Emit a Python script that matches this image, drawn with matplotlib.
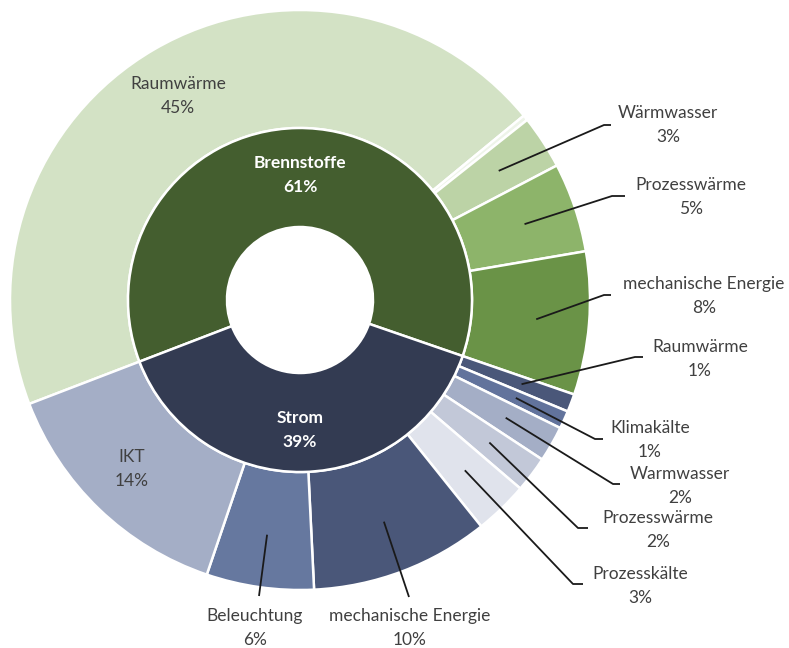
import numpy as np
import matplotlib
matplotlib.use("Agg")
import matplotlib.pyplot as plt

# Inner ring: energy carriers
carriers = ["Brennstoffe", "Strom"]
carrier_colors = ["#445e2f", "#333b52"]

# Outer ring: end uses per carrier (percent of total final energy)
fuel_uses = ["Raumwärme", "", "Wärmwasser", "Prozesswärme", "mechanische Energie"]
fuel_values = [45, 0.3, 3, 5, 8]
fuel_colors = ["#d3e2c5", "#eef4e9", "#bcd3a6", "#8db46a", "#6a9347"]

power_uses = ["Raumwärme", "Klimakälte", "Warmwasser", "Prozesswärme",
              "Prozesskälte", "mechanische Energie", "Beleuchtung", "IKT"]
power_values = [1, 1, 2, 2, 3, 10, 6, 14]
power_colors = ["#4a5779", "#62739c", "#a4aec6", "#c2c8d8",
                "#e0e3ec", "#4a5779", "#66789f", "#a4aec6"]

carrier_values = [sum(fuel_values), sum(power_values)]
carrier_labels = ["61%", "39%"]

W, H = 789, 648
fig = plt.figure(figsize=(W / 100, H / 100), dpi=100)
ax = fig.add_axes([0, 0, 1, 1])
ax.set_xlim(0, W)
ax.set_ylim(0, H)
ax.axis("off")

def P(x, y):
    """Layout position given in top-left pixel coordinates."""
    return (x, H - y)

cx, cy = P(300, 300)
r_out, r_mid, r_in = 290, 172, 73
START = 201
edge = dict(edgecolor="white", linewidth=1.8)

outer_vals = fuel_values + power_values
outer_cols = fuel_colors + power_colors
outer_names = fuel_uses + power_uses

wedges_out, _ = ax.pie(outer_vals, colors=outer_cols, startangle=START,
                       counterclock=False, radius=r_out, center=(cx, cy),
                       wedgeprops=dict(width=r_out - r_mid, **edge))
wedges_in, _ = ax.pie(carrier_values, colors=carrier_colors, startangle=START,
                      counterclock=False, radius=r_mid, center=(cx, cy),
                      wedgeprops=dict(width=r_mid - r_in, **edge))
ax.set_xlim(0, W)
ax.set_ylim(0, H)
ax.set_aspect("equal")

FONT = "Lato"
TXT = "#404040"
FS = 12.5
LS = 1.6

# Carrier labels inside the inner ring
for name, lab, pos in zip(carriers, carrier_labels, [(300, 175), (300, 430)]):
    ax.text(*P(*pos), f"{name}\n{lab}", ha="center", va="center", color="white",
            fontsize=FS, fontweight="bold", family=FONT, linespacing=LS)

def mid_point(w, r):
    a = np.deg2rad((w.theta1 + w.theta2) / 2)
    return cx + r * np.cos(a), cy + r * np.sin(a)

# Label layout: index into outer ring -> (text centre, elbow, end of leader)
layout = {
    0: ((178, 96), None, None),
    2: ((668, 125), (604, 125), (611, 125)),
    3: ((691, 197), (612, 196), (625, 196)),
    4: ((704, 296), (604, 295), (611, 295)),
    5: ((700, 359), (635, 357), (643, 357)),
    6: ((650, 440), (595, 439), (603, 439)),
    7: ((680, 486), (613, 484), (620, 484)),
    8: ((658, 530), (578, 528), (588, 528)),
    9: ((640, 586), (573, 584), (583, 584)),
    10: ((410, 628), None, (409, 597)),
    11: ((255, 628), None, (259, 596)),
    12: ((132, 469), None, None),
}

for i, (tpos, elbow, end) in layout.items():
    val = outer_vals[i]
    ax.text(*P(*tpos), f"{outer_names[i]}\n{val:g}%", ha="center", va="center",
            color=TXT, fontsize=FS, family=FONT, linespacing=LS)
    if end is None:
        continue
    ax0, ay0 = mid_point(wedges_out[i], 237)
    xs, ys = [ax0], [ay0]
    if elbow is not None:
        ex, ey = P(*elbow)
        xs.append(ex); ys.append(ey)
    fx, fy = P(*end)
    xs.append(fx); ys.append(fy)
    ax.plot(xs, ys, color="#1a1a1a", linewidth=1.3, solid_capstyle="butt")

fig.savefig("out.png", dpi=100, facecolor="white")
